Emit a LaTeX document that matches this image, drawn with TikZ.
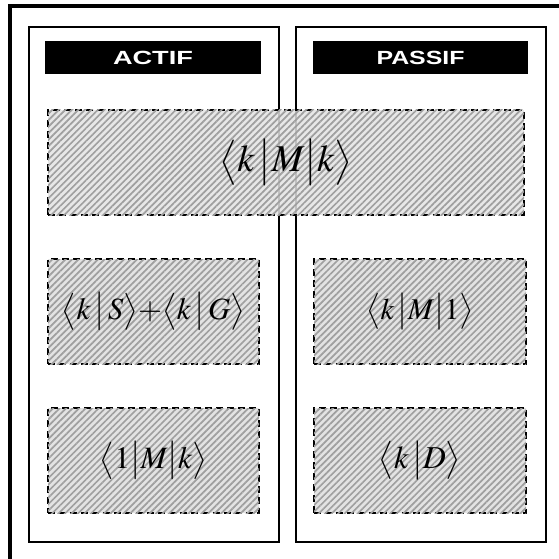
\documentclass[tikz,border=0pt]{standalone}
\usepackage[no-math]{fontspec}
\usepackage{mathptmx}
\usepackage{graphicx}
\newfontfamily\bannerfont{Liberation Sans}
\usetikzlibrary{patterns.meta}
\tikzset{
  column/.style={draw=black, line width=2.5pt, minimum width=250pt, minimum height=515pt, inner sep=0pt},
  banner/.style={fill=black, text=white, minimum height=33pt, inner sep=0pt, font=\bannerfont\bfseries},
  hatchbox/.style={draw=black, line width=2pt, dash pattern=on 7pt off 4pt,
    fill=gray!22, postaction={pattern={Lines[angle=45,distance=4.6pt,line width=1.7pt]}, pattern color=gray!75},
    minimum height=105pt, inner sep=0pt},
}
\begin{document}
\begin{tikzpicture}[x=1pt,y=-1pt]
\useasboundingbox (0,0) rectangle (559,559);
\clip (0,0) rectangle (559,559);
% outer frame (extends beyond picture)
\draw[line width=3.5pt] (10,600) -- (10,6) -- (600,6);
% columns
\node[column] (colA) at (154,284.5) {};
\node[column] (colP) at (421,284.5) {};
% banners
\node[banner, minimum width=216pt] (actif) at (153,57.5) {\resizebox{80pt}{13.3pt}{ACTIF}};
\node[banner, minimum width=215pt] (passif) at (420.5,57.5) {\resizebox{88pt}{13.3pt}{PASSIF}};
% boxes
\node[hatchbox, minimum width=476pt, fill opacity=0.85, draw opacity=1, text opacity=1] (kMk) at (286,162.5)
  {\resizebox{133pt}{!}{$\bigl\langle k\,\big|M\big|k\bigr\rangle$}};
\node[hatchbox, minimum width=211pt] (kSG) at (153.5,311.5)
  {\resizebox{183pt}{!}{$\bigl\langle k\,\big|\,S\bigr\rangle{+}\bigl\langle k\,\big|\,G\bigr\rangle$}};
\node[hatchbox, minimum width=212pt] (kM1) at (420,311.5)
  {\resizebox{107pt}{!}{$\bigl\langle k\,\big|M\big|1\bigr\rangle$}};
\node[hatchbox, minimum width=211pt] (oMk) at (153.5,460.5)
  {\resizebox{107pt}{!}{$\bigl\langle 1\big|M\big|k\bigr\rangle$}};
\node[hatchbox, minimum width=212pt] (kD) at (420,460.5)
  {\resizebox{82pt}{!}{$\bigl\langle k\,\big|D\bigr\rangle$}};
\end{tikzpicture}
\end{document}
